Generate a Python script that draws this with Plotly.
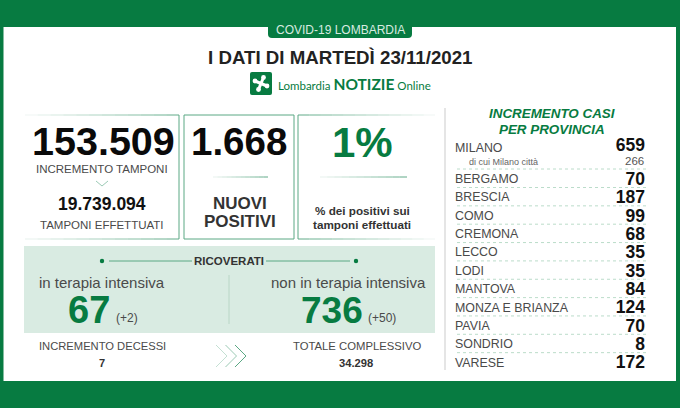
import plotly.graph_objects as go

GREEN = "#077b41"
BORDER = "#5aa884"
BAND = "#d9ebe2"
DARK = "#111111"
GREY = "#4a4a4a"
FONT = "Liberation Sans"

provinces = ["BERGAMO", "BRESCIA", "COMO", "CREMONA", "LECCO", "LODI", "MANTOVA",
             "MONZA E BRIANZA", "PAVIA", "SONDRIO", "VARESE"]
cases = [70, 187, 99, 68, 35, 35, 84, 124, 70, 8, 172]
milano_cases = 659
milano_city_cases = 266

tamponi = "153.509"
tamponi_total = "19.739.094"
positivi = "1.668"
perc_positivi = "1%"
intensiva, intensiva_delta = "67", "(+2)"
non_intensiva, non_intensiva_delta = "736", "(+50)"
decessi = "7"
totale = "34.298"

fig = go.Figure()

def txt(x, y, text, size, color=GREY, bold=False, anchor="center", italic=False):
    fig.add_annotation(x=x, y=y, text=text, showarrow=False, xanchor=anchor, yanchor="middle",
                       align="center",
                       font=dict(family=FONT, size=size, color=color,
                                 weight=700 if bold else 400,
                                 style="italic" if italic else "normal"))

def rect(x0, y0, x1, y1, fill):
    fig.add_shape(type="rect", x0=x0, y0=y0, x1=x1, y1=y1, fillcolor=fill, line_width=0, layer="below")

def line(x0, y0, x1, y1, color=BORDER, width=1, dash="solid", opacity=1):
    fig.add_shape(type="line", x0=x0, y0=y0, x1=x1, y1=y1, opacity=opacity,
                  line=dict(color=color, width=width, dash=dash))

def fade(x0, y0, x1, y1, start=0.0, end=1.0, width=1, steps=12):
    # no gradient strokes in plotly so build it from short pieces
    for i in range(steps):
        a, b = i / steps, (i + 1) / steps
        line(x0 + (x1 - x0) * a, y0 + (y1 - y0) * a, x0 + (x1 - x0) * b, y0 + (y1 - y0) * b,
             width=width, opacity=start + (end - start) * (a + b) / 2)

def chevron(x, y, w, h, opacity=1, width=1):
    fig.add_shape(type="path", path=f"M {x} {y} L {x + w} {y + h / 2} L {x} {y + h}",
                  opacity=opacity, line=dict(color=BORDER, width=width))

# frame
rect(0, 0, 680, 408, GREEN)
rect(3.5, 27, 676, 381, "white")
fig.add_shape(type="path", path="M 268 27 L 268 34 Q 268 38 272 38 L 408 38 Q 412 38 412 34 L 412 27 Z",
              fillcolor=GREEN, line_width=0)
txt(340, 30, "COVID-19 LOMBARDIA", 12, "#d8ebe0")
txt(340, 57, "I DATI DI MARTEDÌ 23/11/2021", 18.7, "#222222", bold=True)

# logo
fig.add_shape(type="path", fillcolor=GREEN, line_width=0,
              path="M 252 72 L 270 72 Q 272 72 272 74 L 272 93 Q 272 95 270 95 L 252 95 Q 250 95 250 93 L 250 74 Q 250 72 252 72 Z")
for dx, dy in [(-6, -2.5), (2.5, -6), (6, 2.5), (-2.5, 6)]:
    fig.add_shape(type="line", x0=261, y0=83.5, x1=261 + dx, y1=83.5 + dy, line=dict(color="white", width=3))
    fig.add_shape(type="circle", x0=261 + dx - 2.4, y0=83.5 + dy - 2.4, x1=261 + dx + 2.4, y1=83.5 + dy + 2.4,
                  fillcolor="white", line_width=0)
fig.add_annotation(x=276, y=84, showarrow=False, xanchor="left", yanchor="middle",
                   text="Lombardia <b><span style='font-size:15.5px'>NOTIZIE</span></b> Online",
                   font=dict(family="Lato", size=11.5, color=GREEN))

# top boxes
line(179, 115, 179, 239)
fade(25, 239, 179, 239, 0.1, 1)
fade(25, 115, 179, 115, 0.05, 1)
line(184, 115, 184, 239)
line(294, 115, 294, 239)
line(184, 115, 294, 115)
line(184, 239, 294, 239)
line(298, 115, 298, 239)
fade(298, 115, 435, 115, 1, 0.05)
fade(298, 239, 435, 239, 1, 0.05)

txt(103, 141, tamponi, 39.5, "#0a0a0a", bold=True)
txt(102, 169, "INCREMENTO TAMPONI", 11.5)
fig.add_shape(type="path", path="M 96 181 L 102 186 L 108 181", opacity=0.6, line=dict(color=BORDER, width=1))
txt(102, 204, tamponi_total, 17.5, DARK, bold=True)
txt(102, 225, "TAMPONI EFFETTUATI", 11.5)

txt(239, 141, positivi, 38.5, "#0a0a0a", bold=True)
fade(213, 177, 268, 177, 0.1, 1)
txt(240, 203, "NUOVI", 17, "#333333", bold=True)
txt(240, 221, "POSITIVI", 17, "#333333", bold=True)

txt(362, 142, perc_positivi, 42, GREEN, bold=True)
fade(320, 177, 407, 177, 0.1, 1)
txt(362, 210, "% dei positivi sui", 11.7, "#333333", bold=True)
txt(362, 224, "tamponi effettuati", 11.7, "#333333", bold=True)

# ricoverati
rect(24, 246, 435, 333, BAND)
for cx in (102, 356):
    fig.add_shape(type="circle", x0=cx - 2.2, y0=258.8, x1=cx + 2.2, y1=263.2, fillcolor=GREEN, line_width=0)
line(109, 261, 192, 261, width=1)
line(266, 261, 350, 261, width=1)
txt(229, 261, "RICOVERATI", 11.5, "#333333", bold=True)
line(229, 275, 229, 324, color="#b9d6c6")
txt(102, 282, "in terapia intensiva", 15)
txt(348, 282, "non in terapia intensiva", 15)
txt(89, 310, intensiva, 38, GREEN, bold=True)
txt(127, 318, intensiva_delta, 12)
txt(332, 310, non_intensiva, 37, GREEN, bold=True)
txt(382, 318, non_intensiva_delta, 12)

txt(102, 346, "INCREMENTO DECESSI", 11.2)
txt(102, 363, decessi, 11, "#333333", bold=True)
for i, op in enumerate((0.35, 0.6, 1)):
    chevron(216 + i * 9.5, 345, 11, 22, op)
txt(357, 346, "TOTALE COMPLESSIVO", 11.3)
txt(356, 363, totale, 11.2, "#333333", bold=True)

# province table
line(445, 108, 445, 370, color="#dddddd", width=1.5)
txt(552, 113, "INCREMENTO CASI", 13.4, GREEN, bold=True, italic=True)
txt(552, 129, "PER PROVINCIA", 13.4, GREEN, bold=True, italic=True)

row_y = [178.5 + i * 18.35 for i in range(len(provinces))]
fig.add_trace(go.Scatter(x=[455] * (len(provinces) + 1), y=[149] + [y + 1.5 for y in row_y],
                         text=["MILANO"] + provinces, mode="text", textposition="middle right",
                         textfont=dict(family=FONT, size=12.4, color=GREY), hoverinfo="skip"))
fig.add_trace(go.Scatter(x=[645] * (len(cases) + 1), y=[147] + [y + 2 for y in row_y],
                         text=[milano_cases] + cases, mode="text", textposition="middle left",
                         textfont=dict(family=FONT, size=17.5, color=DARK, weight=700), hoverinfo="skip"))
txt(467, 162, "di cui Milano città", 9, "#666666", anchor="left")
txt(646, 161, str(milano_city_cases), 11.5, "#555555", anchor="right")
for y in [169] + [y + 9 for y in row_y[:-1]]:
    line(457, y, 647, y, color="#a9d3bd", width=0.8, dash="dot")

fig.update_layout(
    width=680, height=408, margin=dict(l=0, r=0, t=0, b=0),
    showlegend=False, paper_bgcolor="white", plot_bgcolor="white",
    xaxis=dict(range=[0, 680], visible=False, fixedrange=True),
    yaxis=dict(range=[408, 0], visible=False, fixedrange=True),
)
fig.write_html("out.html", post_script="document.body.style.margin='0';",
               config=dict(displayModeBar=False))
